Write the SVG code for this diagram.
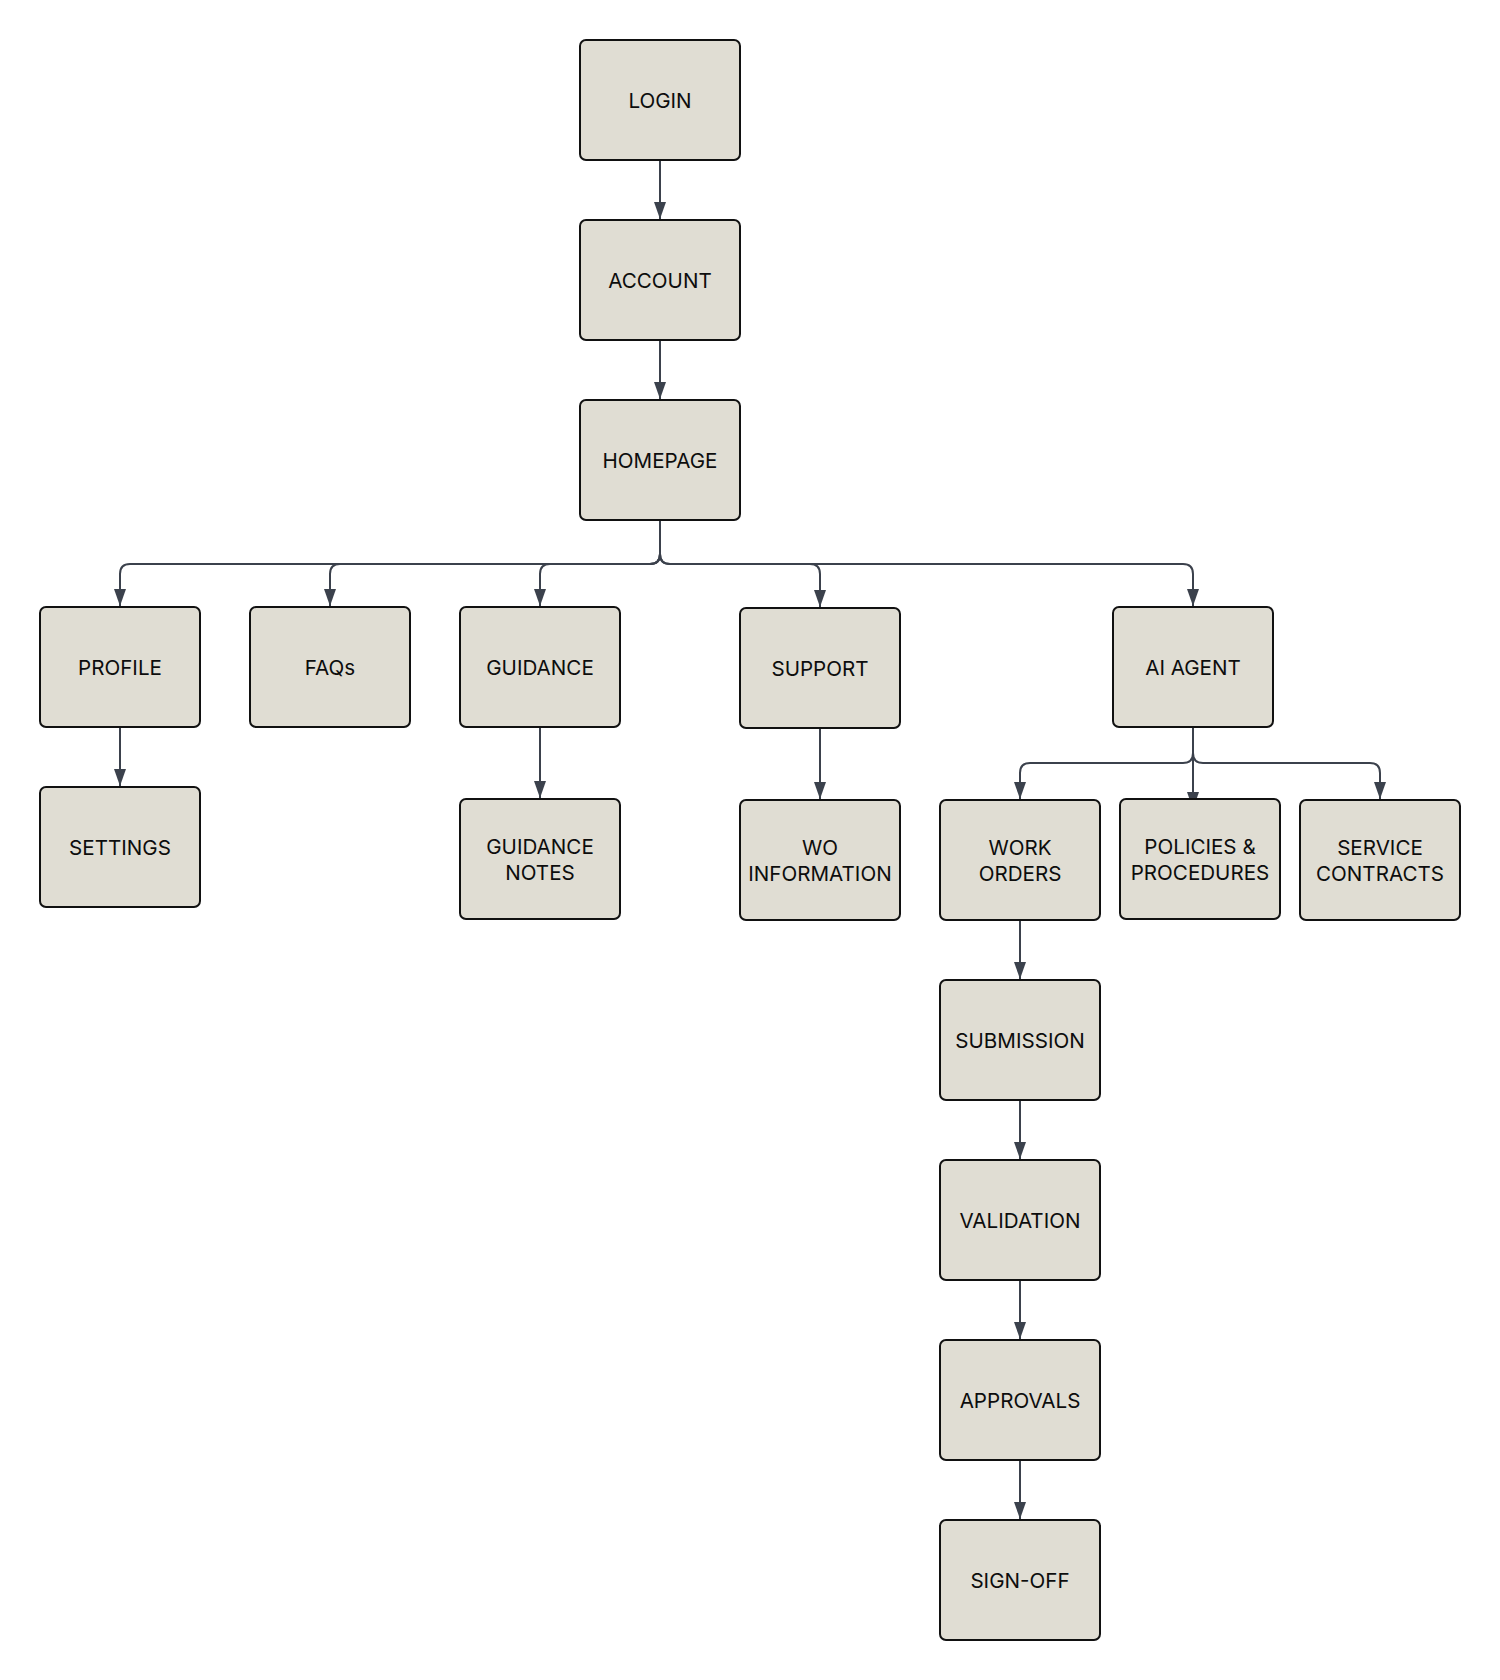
<svg xmlns="http://www.w3.org/2000/svg" width="1500" height="1680" viewBox="0 0 1500 1680">
<style>
.box{fill:#e0ddd3;stroke:#111111;stroke-width:2}
.lbl{font-family:Inter,"Liberation Sans",sans-serif;font-size:20.6px;fill:#0d0d0d;text-anchor:middle}
.edge{fill:none;stroke:#3b414c;stroke-width:2;marker-end:url(#arr)}
</style>
<defs>
<marker id="arr" markerUnits="userSpaceOnUse" markerWidth="17" markerHeight="12" refX="17" refY="6" orient="auto">
<path d="M0,0 L17,6 L0,12 z" fill="#3b414c"/>
</marker>
</defs>
<rect width="1500" height="1680" fill="#ffffff"/>
<g id="connectors">
<path class="edge" d="M660 160 V219"/>
<path class="edge" d="M660 340 V399"/>
<path class="edge" d="M660 520 V554 Q660 564 650 564 H130 Q120 564 120 574 V606"/>
<path class="edge" d="M660 520 V554 Q660 564 650 564 H340 Q330 564 330 574 V606"/>
<path class="edge" d="M660 520 V554 Q660 564 650 564 H550 Q540 564 540 574 V606"/>
<path class="edge" d="M660 520 V554 Q660 564 670 564 H810 Q820 564 820 574 V607"/>
<path class="edge" d="M660 520 V554 Q660 564 670 564 H1183 Q1193 564 1193 574 V606"/>
<path class="edge" d="M120 727 V786"/>
<path class="edge" d="M540 727 V798"/>
<path class="edge" d="M820 728 V799"/>
<path class="edge" d="M1193 727 V753 Q1193 763 1183 763 H1030 Q1020 763 1020 773 V799"/>
<path class="edge" d="M1193 727 V809"/>
<path class="edge" d="M1193 727 V753 Q1193 763 1203 763 H1370 Q1380 763 1380 773 V799"/>
<path class="edge" d="M1020 920 V979"/>
<path class="edge" d="M1020 1100 V1159"/>
<path class="edge" d="M1020 1280 V1339"/>
<path class="edge" d="M1020 1460 V1519"/>
</g>
<g id="login"><rect class="box" x="580" y="40" width="160" height="120" rx="6"/><text class="lbl" x="660" y="107.5">LOGIN</text></g>
<g id="account"><rect class="box" x="580" y="220" width="160" height="120" rx="6"/><text class="lbl" x="660" y="287.5">ACCOUNT</text></g>
<g id="homepage"><rect class="box" x="580" y="400" width="160" height="120" rx="6"/><text class="lbl" x="660" y="467.5">HOMEPAGE</text></g>
<g id="profile"><rect class="box" x="40" y="607" width="160" height="120" rx="6"/><text class="lbl" x="120" y="674.5">PROFILE</text></g>
<g id="faqs"><rect class="box" x="250" y="607" width="160" height="120" rx="6"/><text class="lbl" x="330" y="674.5">FAQs</text></g>
<g id="guidance"><rect class="box" x="460" y="607" width="160" height="120" rx="6"/><text class="lbl" x="540" y="674.5">GUIDANCE</text></g>
<g id="support"><rect class="box" x="740" y="608" width="160" height="120" rx="6"/><text class="lbl" x="820" y="675.5">SUPPORT</text></g>
<g id="ai-agent"><rect class="box" x="1113" y="607" width="160" height="120" rx="6"/><text class="lbl" x="1193" y="674.5">AI AGENT</text></g>
<g id="settings"><rect class="box" x="40" y="787" width="160" height="120" rx="6"/><text class="lbl" x="120" y="854.5">SETTINGS</text></g>
<g id="guidance-notes"><rect class="box" x="460" y="799" width="160" height="120" rx="6"/><text class="lbl" x="540" y="853.5">GUIDANCE</text><text class="lbl" x="540" y="879.5">NOTES</text></g>
<g id="wo-information"><rect class="box" x="740" y="800" width="160" height="120" rx="6"/><text class="lbl" x="820" y="854.5">WO</text><text class="lbl" x="820" y="880.5">INFORMATION</text></g>
<g id="work-orders"><rect class="box" x="940" y="800" width="160" height="120" rx="6"/><text class="lbl" x="1020" y="854.5">WORK</text><text class="lbl" x="1020" y="880.5">ORDERS</text></g>
<g id="policies"><rect class="box" x="1120" y="799" width="160" height="120" rx="6"/><text class="lbl" x="1200" y="853.5">POLICIES &amp;</text><text class="lbl" x="1200" y="879.5">PROCEDURES</text></g>
<g id="service-contracts"><rect class="box" x="1300" y="800" width="160" height="120" rx="6"/><text class="lbl" x="1380" y="854.5">SERVICE</text><text class="lbl" x="1380" y="880.5">CONTRACTS</text></g>
<g id="submission"><rect class="box" x="940" y="980" width="160" height="120" rx="6"/><text class="lbl" x="1020" y="1047.5">SUBMISSION</text></g>
<g id="validation"><rect class="box" x="940" y="1160" width="160" height="120" rx="6"/><text class="lbl" x="1020" y="1227.5">VALIDATION</text></g>
<g id="approvals"><rect class="box" x="940" y="1340" width="160" height="120" rx="6"/><text class="lbl" x="1020" y="1407.5">APPROVALS</text></g>
<g id="sign-off"><rect class="box" x="940" y="1520" width="160" height="120" rx="6"/><text class="lbl" x="1020" y="1587.5">SIGN-OFF</text></g>
</svg>
